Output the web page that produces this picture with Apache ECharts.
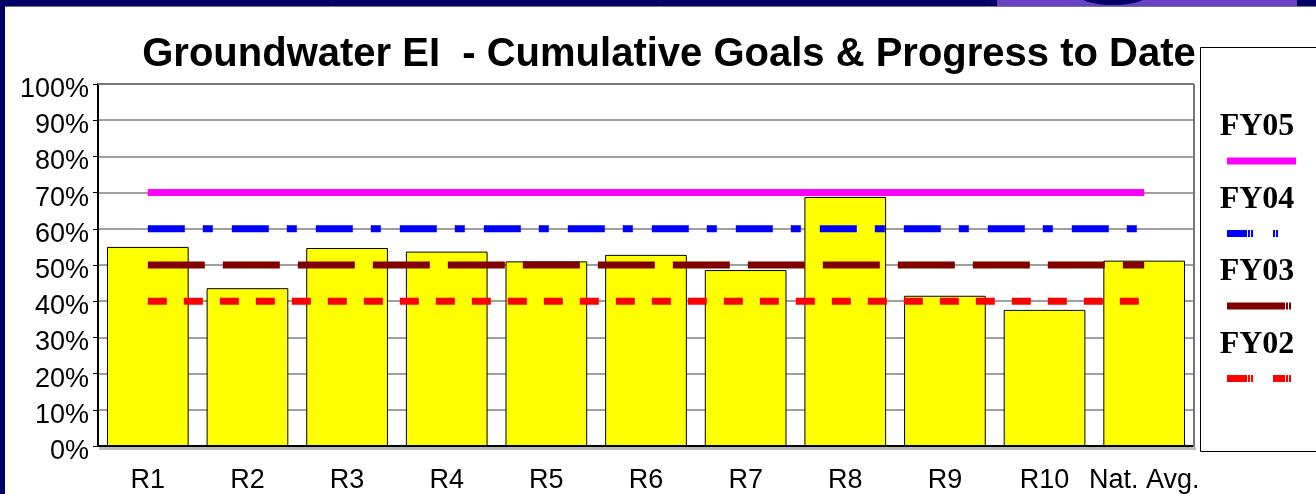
<!DOCTYPE html>
<html>
<head>
<meta charset="utf-8">
<script src="https://cdn.jsdelivr.net/npm/echarts@6/dist/echarts.min.js"></script>
<style>
html,body{margin:0;padding:0;background:#000066;}
#chart{width:1316px;height:494px;}
</style>
</head>
<body>
<div id="chart"></div>
<script>
var categories = ['R1','R2','R3','R4','R5','R6','R7','R8','R9','R10','Nat. Avg.'];
var progress = [55, 43.6, 54.7, 53.7, 51, 52.8, 48.6, 68.8, 41.5, 37.6, 51.2];
var goalNames = ['FY05','FY04','FY03','FY02'];
var goalValues = [70, 60, 50, 40];
var yTicks = [0,10,20,30,40,50,60,70,80,90,100];

var goalColors = ['#ff00ff','#0000ff','#800000','#ff0000'];
var goalDash = ['solid',[37,18,10,19],[57,18],[19,17]];
var legendDash = [null,[20,1,2,1,2,20,2,1,2],[58,1,2,1,2],[20,1,2,1,2,20,12,1,2,1,2]];

var chart = echarts.init(document.getElementById('chart'));

var series = [{
  type:'bar', name:'Progress', data:progress, barCategoryGap:'18%',
  itemStyle:{color:'#ffff00', borderColor:'#000', borderWidth:1}, z:2, silent:true
}];
goalNames.forEach(function(n,i){
  series.push({
    type:'line', name:n,
    data:categories.map(function(){return goalValues[i];}),
    symbol:'none', silent:true, z:3+ (3-i),
    lineStyle:{color:goalColors[i], width:7, type:goalDash[i], cap:'butt'}
  });
});

var graphics = [
  {type:'rect', shape:{x:5,y:6,width:1311,height:488}, style:{fill:'#ffffff'}, z:-10, silent:true},
  {type:'line', shape:{x1:5,y1:6.5,x2:1316,y2:6.5}, style:{stroke:'#777',lineWidth:1}, z:-9, silent:true},
  {type:'rect', shape:{x:997,y:0,width:300,height:6}, style:{fill:'#6a40c4'}, z:-9, silent:true},
  {type:'ellipse', shape:{cx:1113,cy:-3,rx:32,ry:8}, style:{fill:'#000066'}, z:-8, silent:true},
  {type:'rect', shape:{x:1200.5,y:47.5,width:130,height:404}, style:{fill:'#fff',stroke:'#000',lineWidth:1}, z:5, silent:true},
  {type:'line', shape:{x1:98,y1:84,x2:1194,y2:84}, style:{stroke:'#777',lineWidth:2}, z:1, silent:true},
  {type:'line', shape:{x1:1194,y1:84,x2:1194,y2:447}, style:{stroke:'#777',lineWidth:2}, z:1, silent:true},
  {type:'line', shape:{x1:99,y1:448.5,x2:1196,y2:448.5}, style:{stroke:'#bbb',lineWidth:3}, z:0, silent:true}
];
goalNames.forEach(function(n,i){
  var ty = 127 + i*72.5;
  graphics.push({type:'text', x:1257, y:ty, style:{text:n, fill:'#000', font:'bold 32px "Liberation Serif", "Times New Roman", serif', textAlign:'center', textVerticalAlign:'middle'}, z:6, silent:true});
  var st = {stroke:goalColors[i], lineWidth:7};
  if(legendDash[i]) st.lineDash = legendDash[i];
  graphics.push({type:'line', shape:{x1:1227,y1:ty+34,x2:1296,y2:ty+34}, style:st, z:6, silent:true});
});

chart.setOption({
  animation:false,
  backgroundColor:'transparent',
  title:{text:'Groundwater EI  - Cumulative Goals & Progress to Date', left:664, top:30, textAlign:'center',
    textStyle:{fontFamily:'"Liberation Sans", Arial, sans-serif', fontWeight:'bold', fontSize:40, color:'#000'}},
  grid:{left:98, right:122, top:84, bottom:48},
  xAxis:{type:'category', data:categories, boundaryGap:true,
    axisLine:{show:true, lineStyle:{color:'#000', width:2}},
    axisTick:{show:false},
    axisLabel:{color:'#000', fontSize:27, fontFamily:'"Liberation Sans", Arial, sans-serif', margin:21, interval:0},
    splitLine:{show:false}},
  yAxis:{type:'value', min:0, max:100, interval:10,
    axisLine:{show:true, lineStyle:{color:'#000', width:2}},
    axisTick:{show:true, length:5, lineStyle:{color:'#000'}},
    axisLabel:{color:'#000', fontSize:27, fontFamily:'"Liberation Sans", Arial, sans-serif', margin:9,
      verticalAlign:'top', lineHeight:11,
      formatter:function(v){return yTicks.indexOf(v)>=0 ? v+'%' : '';}},
    splitLine:{show:true, lineStyle:{color:'#808080', width:1.5}}},
  series:series,
  graphic:graphics
});
</script>
</body>
</html>
